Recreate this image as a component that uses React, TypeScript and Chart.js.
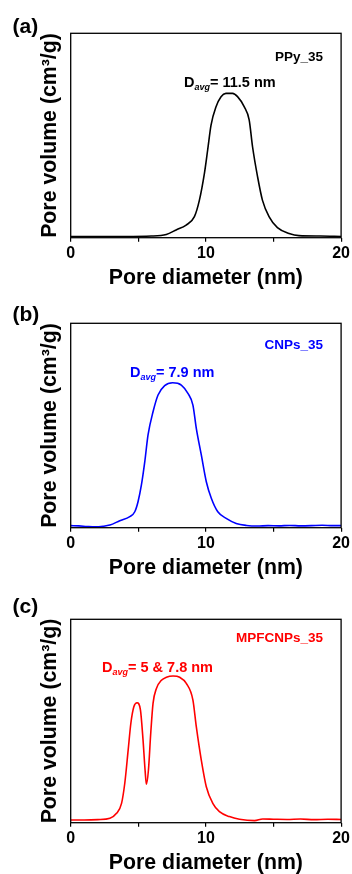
import React, { useEffect, useRef } from "react";
import { Chart, registerables } from "chart.js";

Chart.register(...registerables);

const FONT = '"Liberation Sans", Arial, Helvetica, sans-serif';

// ---- data ----
const xTickValues = [0, 5, 10, 15, 20];
const xTickLabels = ["0", "", "10", "", "20"];

const ppyDiameter = [0, 2, 4, 5.96, 7.07, 7.8, 8.54, 9.15, 9.52, 9.89, 10.13, 10.38, 10.75, 11.12, 11.48, 11.97, 12.34, 12.83, 13.2, 13.45, 13.82, 14.18, 14.67, 15.29, 16.15, 16.88, 18.48, 20];
const ppyVolume = [0.006, 0.006, 0.006, 0.008, 0.016, 0.038, 0.062, 0.103, 0.184, 0.315, 0.429, 0.551, 0.641, 0.69, 0.706, 0.706, 0.69, 0.641, 0.576, 0.445, 0.299, 0.184, 0.103, 0.049, 0.021, 0.01, 0.008, 0.006];

const cnpDiameter = [0, 0.6, 1.2, 1.8, 2.4, 2.9, 3.63, 4.37, 4.74, 4.98, 5.23, 5.48, 5.72, 6.09, 6.46, 6.95, 7.54, 8.18, 8.67, 9.04, 9.29, 9.66, 10.03, 10.4, 10.88, 11.5, 12.24, 13.0, 13.8, 14.6, 15.4, 16.2, 17.0, 17.8, 18.6, 19.4, 20];
const cnpVolume = [0.01, 0.009, 0.006, 0.004, 0.007, 0.013, 0.034, 0.054, 0.078, 0.127, 0.209, 0.323, 0.454, 0.567, 0.649, 0.695, 0.709, 0.698, 0.657, 0.6, 0.486, 0.356, 0.225, 0.144, 0.078, 0.046, 0.021, 0.011, 0.008, 0.01, 0.009, 0.011, 0.009, 0.01, 0.012, 0.01, 0.01];

const mpfDiameter = [0, 1, 2, 2.9, 3.39, 3.76, 4.0, 4.25, 4.45, 4.67, 4.91, 5.16, 5.35, 5.5, 5.6, 5.75, 5.92, 6.09, 6.34, 6.71, 7.08, 7.57, 8.06, 8.55, 9.04, 9.29, 9.66, 10.03, 10.51, 11.0, 11.74, 12.48, 13.6, 14.2, 15, 16, 17, 18, 19, 20];
const mpfVolume = [0.013, 0.013, 0.015, 0.022, 0.046, 0.095, 0.194, 0.357, 0.489, 0.57, 0.59, 0.554, 0.407, 0.259, 0.189, 0.259, 0.44, 0.587, 0.66, 0.7, 0.715, 0.721, 0.715, 0.685, 0.603, 0.472, 0.308, 0.177, 0.095, 0.054, 0.03, 0.017, 0.01, 0.018, 0.017, 0.016, 0.018, 0.015, 0.017, 0.016];

const panelLetters = ["(a)", "(b)", "(c)"];
const sampleNames = ["PPy_35", "CNPs_35", "MPFCNPs_35"];
const davgValues = ["11.5 nm", "7.9 nm", "5 & 7.8 nm"];
const xTitle = "Pore diameter (nm)";
const yTitle = "Pore volume (cm\u00B3/g)";

// ---- layout / style ----
type Layout = {
  top: number; height: number; areaTop: number; areaBottom: number;
  letterY: number; sampleY: number; davgX: number; davgY: number; titleGap: number;
};
const layouts: Layout[] = [
  { top: 0, height: 290, areaTop: 33.3, areaBottom: 237.7, letterY: 27, sampleY: 57, davgX: 184, davgY: 82, titleGap: 40.5 },
  { top: 290, height: 290, areaTop: 33.3, areaBottom: 237.7, letterY: 25.5, sampleY: 55, davgX: 130, davgY: 81.7, titleGap: 40.5 },
  { top: 580, height: 294, areaTop: 39.3, areaBottom: 242.7, letterY: 27.5, sampleY: 58, davgX: 102, davgY: 87, titleGap: 40.5 },
];
const colors = ["#000000", "#0000ff", "#ff0000"];
const seriesX = [ppyDiameter, cnpDiameter, mpfDiameter];
const seriesY = [ppyVolume, cnpVolume, mpfVolume];

const AREA_LEFT = 70.7;
const AREA_RIGHT_PAD = 10;
const WIDTH = 352;
const TITLE_SIZE = 21.3;

function PanelChart({ idx }: { idx: number }) {
  const ref = useRef<HTMLCanvasElement | null>(null);
  const L = layouts[idx];
  useEffect(() => {
    if (!ref.current) return;
    const color = colors[idx];
    const xs = seriesX[idx];
    const ys = seriesY[idx];
    const points = xs.map((x, i) => ({ x, y: ys[i] }));

    const decor = {
      id: "decor" + idx,
      afterDraw(chart: any) {
        const ctx = chart.ctx as CanvasRenderingContext2D;
        const a = chart.chartArea;
        ctx.save();
        ctx.strokeStyle = "#000";
        ctx.lineWidth = 1.3;
        ctx.strokeRect(a.left, a.top, a.right - a.left, a.bottom - a.top);

        ctx.fillStyle = "#000";
        ctx.font = `bold 21px ${FONT}`;
        ctx.textAlign = "left";
        ctx.textBaseline = "middle";
        ctx.fillText(panelLetters[idx], 12.5, L.letterY);

        ctx.fillStyle = color;
        ctx.font = `bold 13.5px ${FONT}`;
        ctx.textAlign = "right";
        ctx.fillText(sampleNames[idx], 323, L.sampleY);

        ctx.textAlign = "left";
        ctx.textBaseline = "alphabetic";
        const base = L.davgY + 5.2;
        let cx = L.davgX;
        ctx.font = `bold 14.5px ${FONT}`;
        ctx.fillText("D", cx, base);
        cx += ctx.measureText("D").width;
        ctx.font = `italic bold 9px ${FONT}`;
        ctx.fillText("avg", cx, base + 3);
        cx += ctx.measureText("avg").width;
        ctx.font = `bold 14.5px ${FONT}`;
        ctx.fillText("= " + davgValues[idx], cx, base);
        ctx.restore();
      },
    };

    const chart = new Chart(ref.current, {
      type: "line",
      data: {
        datasets: [
          {
            data: points,
            borderColor: color,
            borderWidth: 1.6,
            pointRadius: 0,
            fill: false,
            cubicInterpolationMode: "monotone",
          },
        ],
      },
      options: {
        responsive: false,
        animation: false,
        devicePixelRatio: 1,
        layout: { padding: { top: L.areaTop, right: AREA_RIGHT_PAD, left: 0, bottom: 0 } },
        plugins: { legend: { display: false }, tooltip: { enabled: false }, title: { display: false } },
        scales: {
          x: {
            type: "linear",
            min: 0,
            max: 20,
            afterBuildTicks: (scale: any) => {
              scale.ticks = xTickValues.map((v) => ({ value: v }));
            },
            afterFit: (scale: any) => {
              scale.height = L.height - L.areaBottom;
            },
            ticks: {
              autoSkip: false,
              maxRotation: 0,
              padding: 2,
              color: "#000",
              font: { family: FONT, size: 16, weight: "bold" },
              callback: (v: any) => {
                const i = xTickValues.indexOf(Number(v));
                return i >= 0 ? xTickLabels[i] : "";
              },
            },
            grid: {
              display: true,
              drawOnChartArea: false,
              drawTicks: true,
              tickLength: 4,
              color: "#000",
              lineWidth: 1.2,
            },
            border: { display: false },
            title: {
              display: true,
              text: xTitle,
              color: "#000",
              font: { family: FONT, size: TITLE_SIZE, weight: "bold", lineHeight: 1 },
              padding: { top: 0, bottom: L.height - L.areaBottom - L.titleGap - TITLE_SIZE / 2 },
            },
          },
          y: {
            type: "linear",
            min: 0,
            max: 1,
            afterFit: (scale: any) => {
              scale.width = AREA_LEFT;
            },
            ticks: { display: false },
            grid: { display: false },
            border: { display: false },
            title: {
              display: true,
              text: yTitle,
              color: "#000",
              font: { family: FONT, size: TITLE_SIZE, weight: "bold", lineHeight: 1 },
              padding: { top: 50 - TITLE_SIZE / 2, bottom: 0 },
            },
          },
        },
      },
      plugins: [decor],
    } as any);
    return () => chart.destroy();
  }, [idx]);

  return (
    <canvas
      ref={ref}
      width={WIDTH}
      height={L.height}
      style={{ position: "absolute", left: 0, top: L.top, width: WIDTH, height: L.height, display: "block" }}
    />
  );
}

export default function App() {
  return (
    <div style={{ position: "absolute", left: 0, top: 0, width: WIDTH, height: 874, background: "#fff" }}>
      <PanelChart idx={0} />
      <PanelChart idx={1} />
      <PanelChart idx={2} />
    </div>
  );
}
